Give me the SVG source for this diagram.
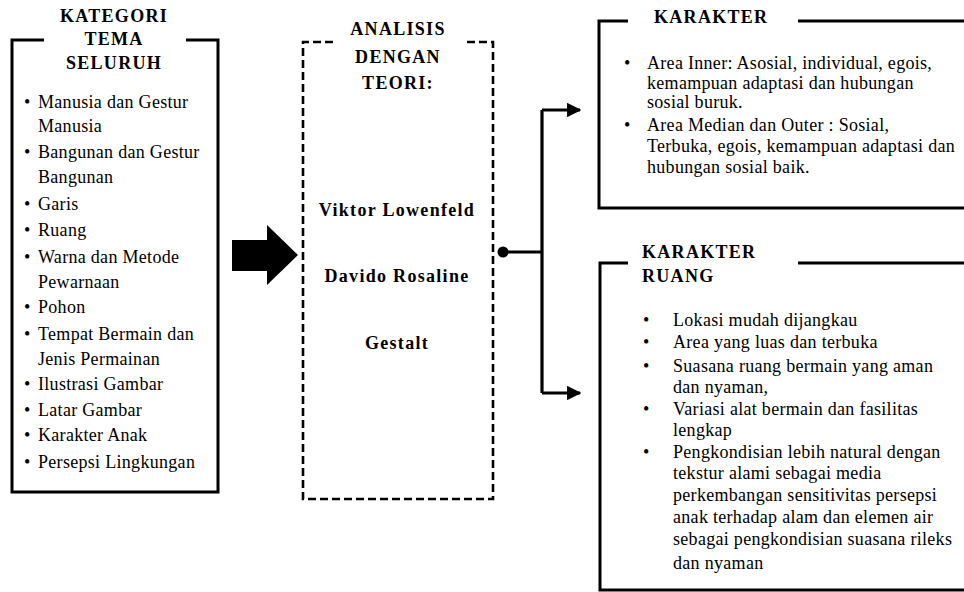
<svg xmlns="http://www.w3.org/2000/svg" width="964" height="592" viewBox="0 0 964 592">
<defs>
<style>
.t{font-family:"Liberation Serif","Times New Roman",serif;font-size:18px;fill:#000;letter-spacing:0.3px}
.b{font-family:"Liberation Serif","Times New Roman",serif;font-size:18px;font-weight:bold;fill:#000;letter-spacing:1.3px}
.c{text-anchor:middle}
.box{fill:none;stroke:#000;stroke-width:3}
.dash{fill:none;stroke:#000;stroke-width:2.6;stroke-dasharray:8 4}
.conn{fill:none;stroke:#000;stroke-width:3.2}
</style>
<marker id="ah" viewBox="0 0 10 10" refX="9" refY="5" markerWidth="4.5" markerHeight="4.5" markerUnits="strokeWidth" orient="auto">
<path d="M0,0 L10,5 L0,10 z" fill="#000"/>
</marker>
</defs>
<rect width="964" height="592" fill="#fff"/>

<g id="kategori">
<path class="box" d="M44,40 H12 V492 H218 V40 H186"/>
<text class="b c" x="114" y="22">KATEGORI</text>
<text class="b c" x="114" y="45">TEMA</text>
<text class="b c" x="114" y="69">SELURUH</text>
<g class="t">
<text x="24" y="108">•</text><text x="38" y="108">Manusia dan Gestur</text>
<text x="38" y="132">Manusia</text>
<text x="24" y="158">•</text><text x="38" y="158">Bangunan dan Gestur</text>
<text x="38" y="183">Bangunan</text>
<text x="24" y="210">•</text><text x="38" y="210">Garis</text>
<text x="24" y="236">•</text><text x="38" y="236">Ruang</text>
<text x="24" y="263">•</text><text x="38" y="263">Warna dan  Metode</text>
<text x="38" y="288">Pewarnaan</text>
<text x="24" y="313">•</text><text x="38" y="313">Pohon</text>
<text x="24" y="340">•</text><text x="38" y="340">Tempat Bermain dan</text>
<text x="38" y="365">Jenis Permainan</text>
<text x="24" y="390">•</text><text x="38" y="390">Ilustrasi Gambar</text>
<text x="24" y="416">•</text><text x="38" y="416">Latar Gambar</text>
<text x="24" y="441">•</text><text x="38" y="441">Karakter Anak</text>
<text x="24" y="468">•</text><text x="38" y="468">Persepsi Lingkungan</text>
</g>
</g>

<g id="big-arrow">
<path d="M232,240 H267 V225 L298,255 L267,285 V271 H232 Z" fill="#000"/>
</g>

<g id="analisis">
<path class="dash" d="M333,42 H303 V499 H493 V42 H466"/>
<text class="b c" x="398" y="35">ANALISIS</text>
<text class="b c" x="398" y="63">DENGAN</text>
<text class="b c" x="398" y="89">TEORI:</text>
<text class="b c" x="397" y="216">Viktor Lowenfeld</text>
<text class="b c" x="397" y="282">Davido Rosaline</text>
<text class="b c" x="397" y="349">Gestalt</text>
</g>

<g id="connectors">
<circle cx="503" cy="252" r="5.5" fill="#000"/>
<path class="conn" d="M503,252 H542"/>
<path class="conn" d="M542,110 V393"/>
<path class="conn" d="M542,110 H580" marker-end="url(#ah)"/>
<path class="conn" d="M542,393 H580" marker-end="url(#ah)"/>
</g>

<g id="karakter">
<path class="box" d="M628,21 H599 V208 H970 M798,21 H970"/>
<text class="b" x="654" y="23">KARAKTER</text>
<g class="t">
<text x="624" y="69">•</text><text x="647" y="69">Area Inner: Asosial, individual, egois,</text>
<text x="647" y="89">kemampuan adaptasi dan hubungan</text>
<text x="647" y="108">sosial buruk.</text>
<text x="624" y="131">•</text><text x="647" y="131">Area Median dan Outer : Sosial,</text>
<text x="647" y="152">Terbuka, egois, kemampuan adaptasi dan</text>
<text x="647" y="173">hubungan sosial baik.</text>
</g>
</g>

<g id="karakter-ruang">
<path class="box" d="M628,263 H600 V590 H970 M798,263 H970"/>
<text class="b" x="642" y="258">KARAKTER</text>
<text class="b" x="642" y="282">RUANG</text>
<g class="t">
<text x="643" y="326">•</text><text x="673" y="326">Lokasi  mudah dijangkau</text>
<text x="643" y="348">•</text><text x="673" y="348">Area yang luas dan terbuka</text>
<text x="643" y="372">•</text><text x="673" y="372">Suasana ruang bermain yang aman</text>
<text x="673" y="393">dan nyaman,</text>
<text x="643" y="415">•</text><text x="673" y="415">Variasi alat bermain dan fasilitas</text>
<text x="673" y="436">lengkap</text>
<text x="643" y="458">•</text><text x="673" y="458">Pengkondisian lebih natural dengan</text>
<text x="673" y="479">tekstur alami sebagai media</text>
<text x="673" y="501">perkembangan sensitivitas persepsi</text>
<text x="673" y="523">anak terhadap alam dan elemen air</text>
<text x="673" y="545">sebagai pengkondisian suasana rileks</text>
<text x="673" y="569">dan nyaman</text>
</g>
</g>
</svg>
